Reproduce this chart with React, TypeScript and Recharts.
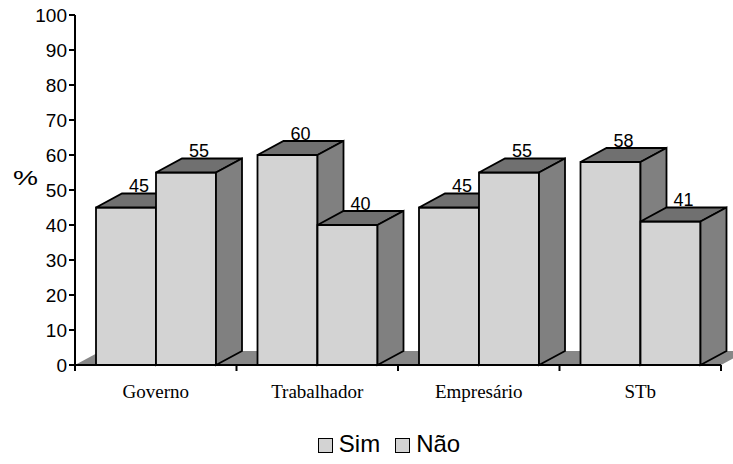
import React from 'react';
import { BarChart, Bar, XAxis, YAxis, Legend, ReferenceArea } from 'recharts';

const categories = ['Governo', 'Trabalhador', 'Empresário', 'STb'];
const simValues = [45, 60, 45, 58];
const naoValues = [55, 40, 55, 41];
const yTicks = [0, 10, 20, 30, 40, 50, 60, 70, 80, 90, 100];
const seriesNames = ['Sim', 'Não'];

const data = categories.map((c, i) => ({ category: c, sim: simValues[i], nao: naoValues[i] }));

const DX = 26;
const DY = 14;
const FRONT = '#d3d3d3';
const TOP = '#707070';
const SIDE = '#808080';
const FLOOR = '#878787';
const SANS = "Arial, 'Liberation Sans', sans-serif";
const SERIF = "'Times New Roman', 'Liberation Serif', serif";
const SW = 1.8;

function makeBar3D(key: string) {
  return (props: any) => {
    const { x, y, width, height, payload } = props;
    if (x == null || y == null) return <g />;
    const v = payload ? payload[key] : props.value;
    const top = `${x},${y} ${x + width},${y} ${x + width + DX},${y - DY} ${x + DX},${y - DY}`;
    const side = `${x + width},${y} ${x + width + DX},${y - DY} ${x + width + DX},${y + height - DY} ${x + width},${y + height}`;
    return (
      <g>
        <text x={x + width / 2 + DX / 2} y={y - DY - 1.5} textAnchor="middle" fontFamily={SANS} fontSize={18} fill="#000">
          {v}
        </text>
        <rect x={x} y={y} width={width} height={height} fill={FRONT} stroke="#000" strokeWidth={SW} />
        <polygon points={top} fill={TOP} stroke="#000" strokeWidth={SW} strokeLinejoin="miter" />
        <polygon points={side} fill={SIDE} stroke="#000" strokeWidth={SW} strokeLinejoin="miter" />
      </g>
    );
  };
}

const FloorShape = (props: any) => {
  const { x, y, width, height } = props;
  if (x == null) return <g />;
  const b = y + height;
  const pts = `${x},${b} ${x + width},${b} ${x + width + DX},${b - DY} ${x + DX},${b - DY}`;
  return <polygon points={pts} fill={FLOOR} stroke="none" />;
};

const CategoryTick = (props: any) => {
  const { x, y, payload } = props;
  const off = payload && payload.offset != null ? payload.offset : 0;
  const isLast = payload.value === categories[categories.length - 1];
  return (
    <g>
      <line x1={x - off} y1={y} x2={x - off} y2={y + 6} stroke="#000" strokeWidth={2} />
      {isLast && <line x1={x + off} y1={y} x2={x + off} y2={y + 6} stroke="#000" strokeWidth={2} />}
      <text x={x} y={y + 33} textAnchor="middle" fontFamily={SERIF} fontSize={19} fill="#000">
        {payload.value}
      </text>
    </g>
  );
};

const LegendContent = () => (
  <div
    style={{
      display: 'flex',
      justifyContent: 'center',
      alignItems: 'center',
      height: 24,
      paddingLeft: 44,
      fontFamily: SANS,
      fontSize: 24,
      lineHeight: '24px',
      color: '#000',
    }}
  >
    {seriesNames.map((n, i) => (
      <span key={n} style={{ display: 'flex', alignItems: 'center', marginLeft: i ? 15 : 0 }}>
        <span
          style={{
            width: 13,
            height: 13,
            border: '1.5px solid #000',
            background: FRONT,
            display: 'inline-block',
            marginRight: 6,
            marginTop: 3,
          }}
        />
        <span>{n}</span>
      </span>
    ))}
  </div>
);

const PercentLabel = (props: any) => {
  const vb = props.viewBox || { x: 15, y: 15, width: 60, height: 350 };
  return (
    <text
      x={vb.x + 0}
      y={vb.y + vb.height / 2 - 5}
      fontFamily={SANS}
      fontSize={20}
      fill="#000"
      textLength={25}
      lengthAdjust="spacingAndGlyphs"
    >
      %
    </text>
  );
};

export default function App() {
  return (
    <div style={{ position: 'absolute', left: 0, top: 0, background: '#fff' }}>
      <BarChart
        width={733}
        height={464}
        data={data}
        margin={{ top: 15, right: 12, left: 13, bottom: 8 }}
        barGap={0}
      >
        <ReferenceArea y1={0} y2={100} ifOverflow="visible" shape={FloorShape} />
        <XAxis
          dataKey="category"
          tickLine={false}
          tickSize={0}
          tickMargin={0}
          height={67}
          interval={0}
          axisLine={{ stroke: '#000', strokeWidth: 2 }}
          tick={CategoryTick}
        />
        <YAxis
          width={62}
          domain={[0, 100]}
          ticks={yTicks}
          interval={0}
          tickSize={6}
          tickMargin={2}
          axisLine={{ stroke: '#000', strokeWidth: 2 }}
          tickLine={{ stroke: '#000', strokeWidth: 2 }}
          tick={{ fill: '#000', fontSize: 19, fontFamily: SANS }}
          label={{ content: PercentLabel }}
        />
        <Legend verticalAlign="bottom" height={24} content={LegendContent} />
        <Bar dataKey="sim" name="Sim" barSize={60} isAnimationActive={false} shape={makeBar3D('sim')} />
        <Bar dataKey="nao" name="Não" barSize={60} isAnimationActive={false} shape={makeBar3D('nao')} />
      </BarChart>
    </div>
  );
}
